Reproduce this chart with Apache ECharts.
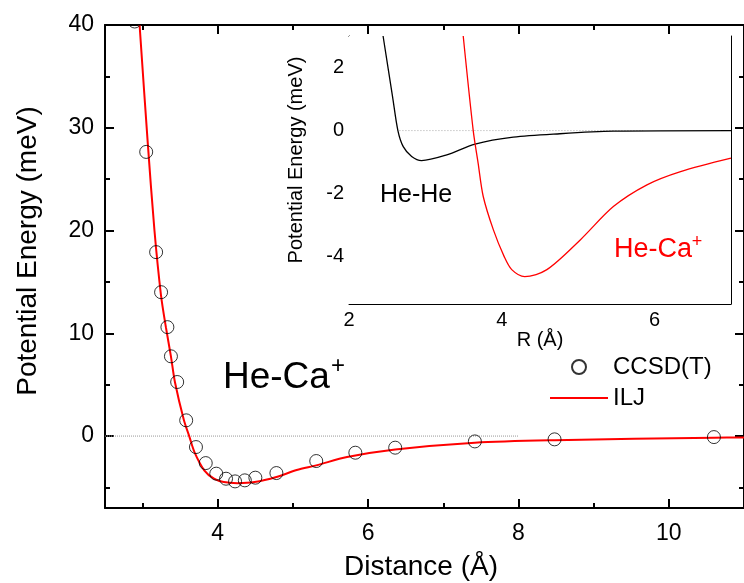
<!DOCTYPE html>
<html>
<head>
<meta charset="utf-8">
<script src="https://cdn.jsdelivr.net/npm/echarts@6/dist/echarts.min.js"></script>
<style>
  html, body { margin: 0; padding: 0; background: #fff; }
  #chart { width: 744px; height: 583px; }
</style>
</head>
<body>
<div id="chart"></div>
<script>
// main plot: CCSD(T) points and ILJ fit for He-Ca+
const ccsdR = [2.895, 3.048, 3.18, 3.246, 3.33, 3.377, 3.46, 3.58, 3.71, 3.84, 3.98, 4.11, 4.23, 4.36, 4.50, 4.78, 5.31, 5.83, 6.36, 7.42, 8.48, 10.60]
const ccsdE = [40.34, 27.65, 17.9, 14.0, 10.6, 7.76, 5.26, 1.53, -1.07, -2.63, -3.66, -4.15, -4.41, -4.31, -4.05, -3.6, -2.43, -1.62, -1.13, -0.52, -0.32, -0.10]
const iljR = [2.96, 3.066, 3.158, 3.245, 3.31, 3.377, 3.43, 3.55, 3.62, 3.69, 3.82, 3.95, 4.08, 4.26, 4.49, 4.78, 5.05, 5.31, 5.72, 6.36, 7.42, 8.48, 10.6, 11]
const iljE = [40, 28.8, 20, 13.7, 10.6, 7.76, 5.26, 1.53, 0, -1.56, -3.33, -4.15, -4.48, -4.58, -4.48, -3.99, -3.3, -2.85, -2.04, -1.3, -0.64, -0.4, -0.16, -0.13]
const mainZeroR = [2.5, 8]

// inset: He-He and He-Ca+ potentials
const heHeR = [2.446, 2.57, 2.64, 2.71, 2.82, 2.95, 3.28, 3.65, 4.15, 4.76, 5.46, 7]
const heHeE = [3, 1.08, 0, -0.51, -0.82, -0.95, -0.77, -0.43, -0.21, -0.1, -0.02, 0]
const heCaR = [3.495, 3.626, 3.69, 3.757, 3.89, 4.03, 4.13, 4.30, 4.59, 5.03, 5.46, 5.9, 6.34, 7]
const heCaE = [3, 0, -1.03, -2.09, -3.15, -3.99, -4.41, -4.63, -4.41, -3.46, -2.41, -1.72, -1.3, -0.875]
const insetZeroR = [2.66, 5.85]

// ticks
const mainXLabels = [4, 6, 8, 10]
const mainXMinor = [3, 5, 7, 9]
const mainYLabels = [0, 10, 20, 30, 40]
const mainYMinor = [-5, 5, 15, 25, 35]
const insetXLabels = [2, 4, 6]
const insetXMinor = [3, 5, 7]
const insetYLabels = [-4, -2, 0, 2]
const insetYMinor = [-5, -3, -1, 1, 3]

const font = 'Liberation Sans, Arial, sans-serif'

function pairs(xs, ys) {
    return xs.map((x, i) => [x, ys[i]])
}

// one axis; major axes carry the line and labels, minor ones only short ticks
function axis(o) {
    return {
        type: 'value',
        gridIndex: o.grid,
        position: o.position,
        min: o.min,
        max: o.max,
        axisLine: { show: !!o.line, onZero: false, lineStyle: { color: '#000', width: o.lineWidth || 1 } },
        axisTick: {
            show: true,
            inside: true,
            length: o.tickLen,
            customValues: o.ticks,
            lineStyle: { color: '#000', width: o.lineWidth || 1 }
        },
        axisLabel: {
            show: !!o.labels,
            customValues: o.labels || [],
            margin: o.margin,
            color: '#000',
            fontSize: o.fontSize,
            fontFamily: font
        },
        splitLine: { show: false }
    }
}

let xAxes = [
    axis({ grid: 0, position: 'bottom', min: 2.5, max: 11, line: true, lineWidth: 2, ticks: mainXLabels, tickLen: 9, labels: mainXLabels, margin: 14, fontSize: 23 }),
    axis({ grid: 0, position: 'bottom', min: 2.5, max: 11, ticks: mainXMinor, tickLen: 5, lineWidth: 2 }),
    axis({ grid: 0, position: 'top', min: 2.5, max: 11, line: true, lineWidth: 2, ticks: mainXLabels, tickLen: 9 }),
    axis({ grid: 0, position: 'top', min: 2.5, max: 11, ticks: mainXMinor, tickLen: 5, lineWidth: 2 }),
    axis({ grid: 1, position: 'bottom', min: 2, max: 7, line: true, ticks: insetXLabels, tickLen: 6, labels: insetXLabels, margin: 6, fontSize: 20 }),
    axis({ grid: 1, position: 'bottom', min: 2, max: 7, ticks: insetXMinor, tickLen: 3.5 }),
    axis({ grid: 1, position: 'top', min: 2, max: 7, line: true, ticks: insetXLabels, tickLen: 6 }),
    axis({ grid: 1, position: 'top', min: 2, max: 7, ticks: insetXMinor, tickLen: 3.5 })
]

let yAxes = [
    axis({ grid: 0, position: 'left', min: -7, max: 40, line: true, lineWidth: 2, ticks: mainYLabels, tickLen: 9, labels: mainYLabels, margin: 11, fontSize: 23 }),
    axis({ grid: 0, position: 'left', min: -7, max: 40, ticks: mainYMinor, tickLen: 5, lineWidth: 2 }),
    axis({ grid: 0, position: 'right', min: -7, max: 40, line: true, lineWidth: 2, ticks: mainYLabels, tickLen: 9 }),
    axis({ grid: 0, position: 'right', min: -7, max: 40, ticks: mainYMinor, tickLen: 5, lineWidth: 2 }),
    axis({ grid: 1, position: 'left', min: -5.5, max: 3, line: true, ticks: insetYLabels, tickLen: 6, labels: insetYLabels, margin: 5, fontSize: 20 }),
    axis({ grid: 1, position: 'left', min: -5.5, max: 3, ticks: insetYMinor, tickLen: 3.5 }),
    axis({ grid: 1, position: 'right', min: -5.5, max: 3, line: true, ticks: insetYLabels, tickLen: 6 }),
    axis({ grid: 1, position: 'right', min: -5.5, max: 3, ticks: insetYMinor, tickLen: 3.5 })
]

let myChart = echarts.init(document.getElementById('chart'))

let option = {
    animation: false,
    backgroundColor: '#fff',
    textStyle: { fontFamily: font },
    grid: [
        { left: 105, top: 25, right: -7, bottom: 75, containLabel: false },
        // inset sits on a white box
        { left: 349, top: 36, width: 382, height: 268, show: true, backgroundColor: '#fff', borderWidth: 0, z: 5 }
    ],
    xAxis: xAxes,
    yAxis: yAxes,
    legend: {
        orient: 'vertical',
        left: 550,
        top: 355,
        padding: 0,
        itemWidth: 58,
        itemHeight: 14,
        itemGap: 7,
        textStyle: { fontSize: 24, color: '#000', fontFamily: font },
        data: [
            { name: 'CCSD(T)' },
            { name: 'ILJ', icon: 'path://M0,0L58,0L58,2L0,2Z' }
        ]
    },
    series: [
        {
            type: 'line',
            xAxisIndex: 0, yAxisIndex: 0,
            data: pairs(mainZeroR, [0, 0]),
            symbol: 'none',
            silent: true,
            lineStyle: { color: '#999', width: 1, type: 'dotted' }
        },
        {
            name: 'ILJ',
            type: 'line',
            xAxisIndex: 0, yAxisIndex: 0,
            data: pairs(iljR, iljE),
            symbol: 'none',
            smooth: 0.3,
            lineStyle: { color: '#ff0000', width: 2 },
            itemStyle: { color: '#ff0000' }
        },
        {
            name: 'CCSD(T)',
            type: 'scatter',
            xAxisIndex: 0, yAxisIndex: 0,
            data: pairs(ccsdR, ccsdE),
            symbol: 'circle',
            symbolSize: 13,
            clip: false,
            z: 3,
            itemStyle: { color: 'rgba(0,0,0,0)', borderColor: '#000', borderWidth: 1 }
        },
        {
            type: 'line',
            xAxisIndex: 4, yAxisIndex: 4,
            data: pairs(insetZeroR, [0, 0]),
            symbol: 'none',
            silent: true,
            z: 6,
            lineStyle: { color: '#aaa', width: 1, type: [1, 2] }
        },
        {
            type: 'line',
            xAxisIndex: 4, yAxisIndex: 4,
            data: pairs(heHeR, heHeE),
            symbol: 'none',
            smooth: 0.3,
            z: 6,
            lineStyle: { color: '#000', width: 1.3 }
        },
        {
            type: 'line',
            xAxisIndex: 4, yAxisIndex: 4,
            data: pairs(heCaR, heCaE),
            symbol: 'none',
            smooth: 0.3,
            z: 6,
            lineStyle: { color: '#ff0000', width: 1.3 }
        }
    ],
    graphic: [
        // hides the part of the top circle that lies above the frame
        { type: 'rect', shape: { x: 115, y: 0, width: 40, height: 24 }, style: { fill: '#fff' }, z: 10 },
        { type: 'text', x: 28, y: 251, rotation: Math.PI / 2, style: { text: 'Potential Energy (meV)', fontSize: 28, fontFamily: font, fill: '#000', align: 'center', verticalAlign: 'middle' }, z: 10 },
        { type: 'text', x: 421, y: 567, style: { text: 'Distance (Å)', fontSize: 28, fontFamily: font, fill: '#000', align: 'center', verticalAlign: 'middle' }, z: 10 },
        { type: 'text', x: 296, y: 160, rotation: Math.PI / 2, style: { text: 'Potential Energy (meV)', fontSize: 20, fontFamily: font, fill: '#000', align: 'center', verticalAlign: 'middle' }, z: 10 },
        { type: 'text', x: 540, y: 340, style: { text: 'R (Å)', fontSize: 20, fontFamily: font, fill: '#000', align: 'center', verticalAlign: 'middle' }, z: 10 },
        { type: 'text', x: 223, y: 378, style: { text: 'He-Ca', fontSize: 37, fontFamily: font, fill: '#000', align: 'left', verticalAlign: 'middle' }, z: 10 },
        { type: 'text', x: 338, y: 366, style: { text: '+', fontSize: 24, fontFamily: font, fill: '#000', align: 'center', verticalAlign: 'middle' }, z: 10 },
        { type: 'text', x: 380, y: 195, style: { text: 'He-He', fontSize: 25, fontFamily: font, fill: '#000', align: 'left', verticalAlign: 'middle' }, z: 10 },
        { type: 'text', x: 614, y: 250, style: { text: 'He-Ca', fontSize: 27, fontFamily: font, fill: '#ff0000', align: 'left', verticalAlign: 'middle' }, z: 10 },
        { type: 'text', x: 697, y: 242, style: { text: '+', fontSize: 18, fontFamily: font, fill: '#ff0000', align: 'center', verticalAlign: 'middle' }, z: 10 }
    ]
}

myChart.setOption(option)
</script>
</body>
</html>
